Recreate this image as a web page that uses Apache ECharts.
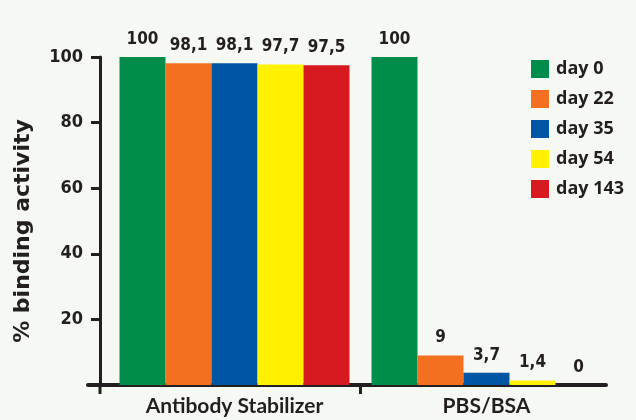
<!DOCTYPE html>
<html>
<head>
<meta charset="utf-8">
<script src="https://cdn.jsdelivr.net/npm/echarts@6/dist/echarts.min.js"></script>
<style>
html,body{margin:0;padding:0;background:#f6f9f3;}
#c{width:636px;height:420px;}
</style>
</head>
<body>
<div id="c"></div>
<script>
const categories = ["Antibody Stabilizer", "PBS/BSA"];
const seriesNames = ["day 0", "day 22", "day 35", "day 54", "day 143"];
const day0 = [100, 100];
const day22 = [98.1, 9];
const day35 = [98.1, 3.7];
const day54 = [97.7, 1.4];
const day143 = [97.5, 0];
const yTicks = [20, 40, 60, 80, 100];
const colors = ["#008d4c", "#f37021", "#0055a5", "#fff100", "#d71920"];

const seriesValues = [day0, day22, day35, day54, day143];
const ink = "#231f20";
const condFont = "'DejaVu Sans Condensed','Liberation Sans Narrow','DejaVu Sans',sans-serif";

const chart = echarts.init(document.getElementById('c'));
chart.setOption({
  backgroundColor: "#f6f9f3",
  animation: false,
  grid: [
    {left: 108.5, right: 23.5, top: 57, bottom: 35, outerBoundsMode: 'none'},
    {left: 88, right: 30, top: 57, bottom: 35, outerBoundsMode: 'none'}
  ],
  legend: {
    orient: 'vertical', left: 531, top: 60, padding: 0,
    itemWidth: 18, itemHeight: 18, itemGap: 12,
    icon: 'rect',
    data: seriesNames,
    textStyle: {fontFamily: "'Open Sans',sans-serif", fontWeight: 700, fontSize: 18, color: ink, padding: [0,0,0,2]}
  },
  xAxis: [
    {
      type: 'category', gridIndex: 0, data: categories,
      axisLine: {show: false},
      axisTick: {show: false},
      axisLabel: {margin: 11, fontFamily: "Lato,sans-serif", fontWeight: 700, fontSize: 21, color: ink}
    },
    {
      type: 'value', gridIndex: 1, min: 0, max: 1,
      axisLine: {show: true, lineStyle: {color: ink, width: 4}},
      axisTick: {show: false}, axisLabel: {show: false}, splitLine: {show: false}
    }
  ],
  yAxis: [
    {
      type: 'value', gridIndex: 0, min: 0, max: 100, interval: 20, offset: 8.5,
      name: '% binding activity', nameLocation: 'middle', nameGap: 66,
      nameTextStyle: {fontFamily: "'DejaVu Sans',sans-serif", fontWeight: 700, fontSize: 22, color: ink, padding: [0, 20, 0, 0]},
      axisLine: {show: true, lineStyle: {color: ink, width: 3}},
      axisTick: {show: true, length: 9, lineStyle: {color: ink, width: 3},
        customValues: yTicks},
      axisLabel: {margin: 17, fontFamily: condFont, fontWeight: 700, fontSize: 18, color: ink,
        customValues: yTicks},
      splitLine: {show: false}
    },
    {type: 'value', gridIndex: 1, show: false}
  ],
  series: seriesNames.map((n, i) => ({
    name: n, type: 'bar', xAxisIndex: 0, yAxisIndex: 0,
    data: seriesValues[i],
    barWidth: 46, barGap: '0%',
    itemStyle: {color: colors[i]},
    label: {
      show: true, position: 'top', distance: 9,
      fontFamily: condFont, fontWeight: 700, fontSize: 17, color: ink,
      formatter: (p) => String(p.value).replace('.', ',')
    }
  }))
});

// axis decorations derived from the library's own scales
const c0 = chart.convertToPixel({xAxisIndex: 0}, categories[0]);
const c1 = chart.convertToPixel({xAxisIndex: 0}, categories[1]);
const boundary = (c0 + c1) / 2;
const baseY = chart.convertToPixel({yAxisIndex: 0}, 0);
const yAxisX = chart.convertToPixel({xAxisIndex: 1}, 0) + 12;
chart.setOption({
  graphic: [
    {type: 'line', shape: {x1: yAxisX, y1: baseY, x2: yAxisX, y2: baseY + 9}, style: {stroke: ink, lineWidth: 3}, z: 10},
    {type: 'line', shape: {x1: boundary, y1: baseY, x2: boundary, y2: baseY + 9}, style: {stroke: ink, lineWidth: 3}, z: 10}
  ]
});
</script>
</body>
</html>
